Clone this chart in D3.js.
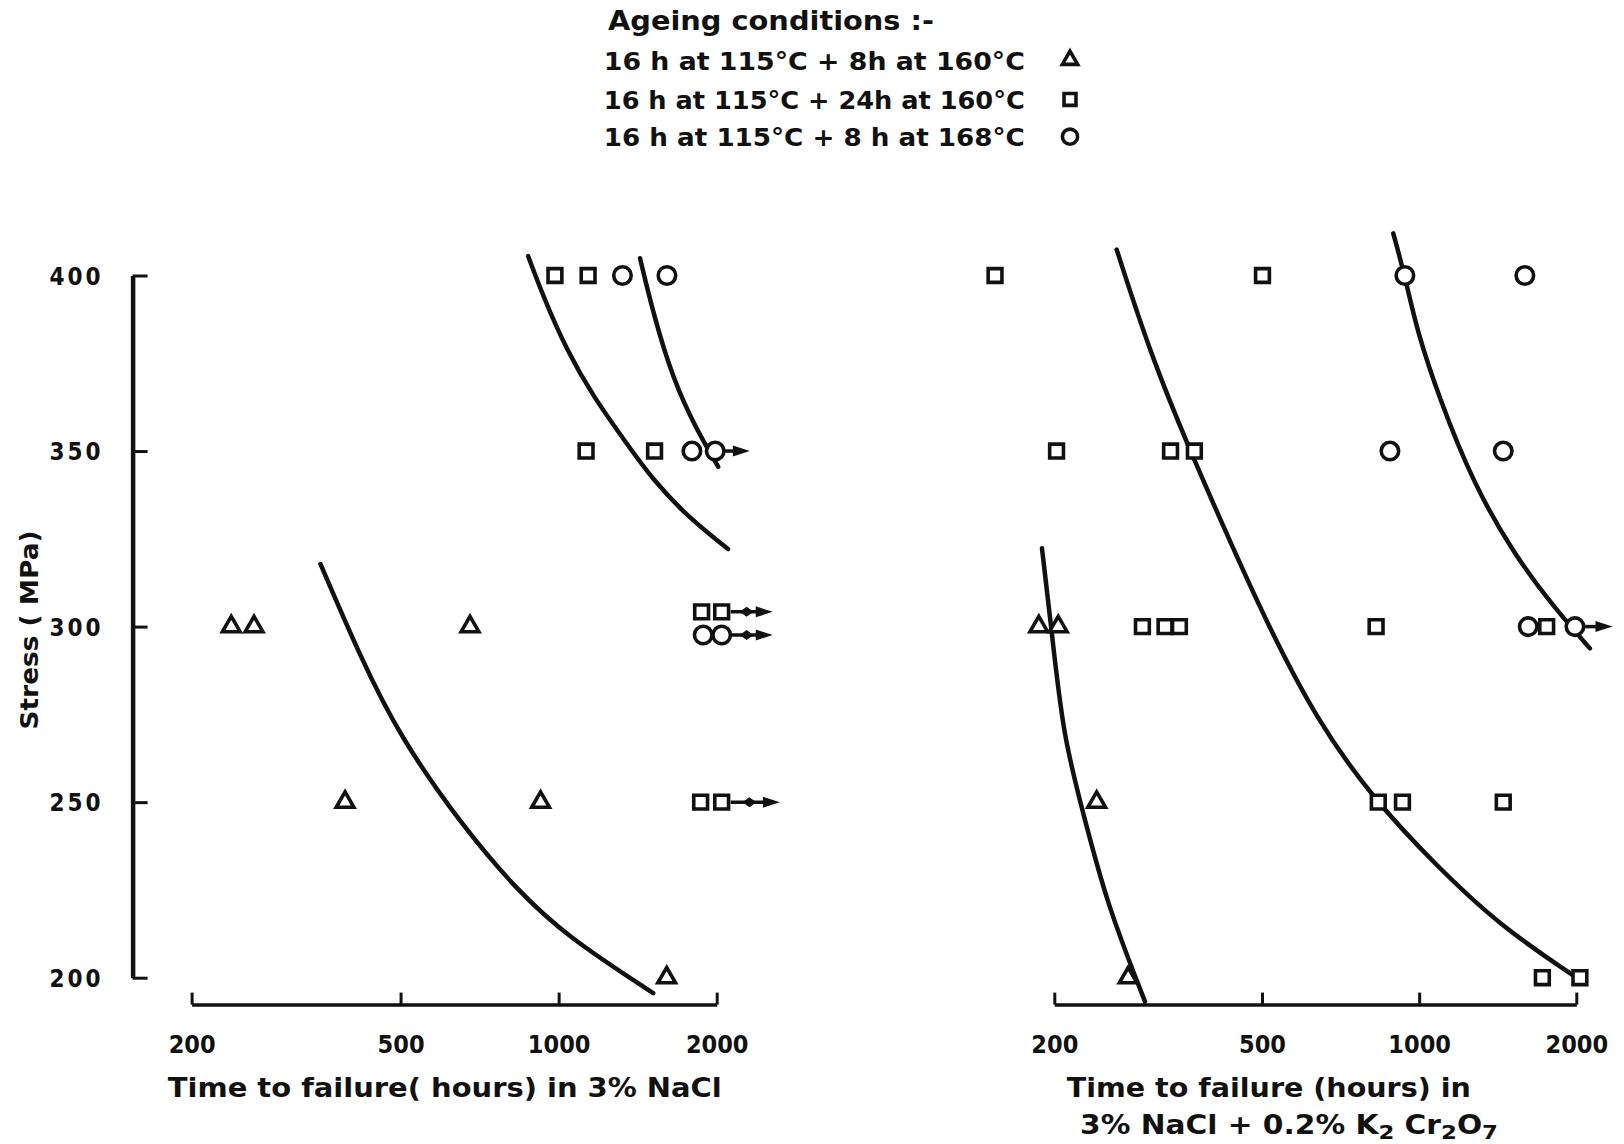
<!DOCTYPE html>
<html>
<head>
<meta charset="utf-8">
<style>
  body { margin: 0; background: #fff; }
  svg text { font-family: "DejaVu Sans Condensed", "DejaVu Sans", sans-serif; font-weight: bold; fill: #111; }
</style>
</head>
<body>
<div id="chart"></div>
<script src="https://cdn.jsdelivr.net/npm/d3@7"></script>
<script>
// axis ticks
var stressTicks = [200, 250, 300, 350, 400];
var timeTicks = [200, 500, 1000, 2000];

// ageing conditions (legend)
var conditions = ["16 h at 115°C + 8h at 160°C", "16 h at 115°C + 24h at 160°C", "16 h at 115°C + 8 h at 168°C"];
var shapes = ["triangle", "square", "circle"];

// left panel: 3% NaCl, [hours, MPa]
var naclTriangles = [[238, 300], [263, 300], [678, 300], [392, 250], [924, 250], [1606, 200]];
var naclSquares = [[984, 400], [1138, 400], [1128, 350], [1523, 350], [1872, 304.2], [2044, 304.2], [1864, 250], [2044, 250]];
var naclCircles = [[1323, 400], [1608, 400], [1794, 350], [1987, 350], [1885, 297.6], [2044, 297.6]];
// unbroken specimens: [from hours, MPa, to hours]
var naclArrows = [[1987, 350, 2313], [2044, 304.2, 2557], [2044, 297.6, 2557], [2044, 250, 2639]];
var naclCurveTri = [[352, 317.8], [419, 291.4], [498, 268.7], [657, 243], [833, 225], [1035, 211.8], [1514, 195.6]];
var naclCurveSq = [[875, 405.5], [935, 394], [1035, 378.8], [1164, 365.5], [1347, 352.2], [1514, 341.7], [1768, 331], [2102, 322.1]];
var naclCurveCi = [[1429, 404.9], [1514, 389.2], [1653, 370.2], [1832, 356], [2014, 345.5]];

// right panel: 3% NaCl + 0.2% K2Cr2O7
var chromTriangles = [[186.8, 300], [203.5, 300], [241.1, 250], [277, 200]];
var chromSquares = [[154, 400], [501, 400], [202, 350], [334, 350], [371, 350], [295, 300], [326, 300], [347.3, 300], [827, 300], [1755, 300], [835, 250], [929, 250], [1449, 250], [1722, 200], [2032, 200]];
var chromCircles = [[939, 400], [1594, 400], [879, 350], [1449, 350], [1618, 300], [1988, 300]];
var chromArrows = [[1988, 300, 2346]];
var chromCurveTri = [[189.4, 322.3], [197.6, 299.1], [208.1, 268.6], [227.2, 246.9], [251.9, 221.2], [298.4, 193.2]];
var chromCurveSq = [[263.3, 407.4], [304.8, 378.1], [363.8, 350.1], [440.4, 322.2], [510.4, 301.2], [636.5, 273.3], [816.9, 251], [1064, 232.8], [1428, 214.7], [2032, 199.4]];
var chromCurveCi = [[892, 412], [939, 399.9], [989, 384.5], [1096, 364.5], [1270, 340.8], [1515, 320.9], [1807, 305.7], [2124, 293.8]];

var width = 1624, height = 1144;

var svg = d3.select("#chart").append("svg")
    .attr("width", width)
    .attr("height", height);

var y = d3.scaleLinear().domain([200, 400]).range([977.7, 275.5]);
var xL = d3.scaleLog().domain([200, 2000]).range([191.6, 716.7]);
var xR = d3.scaleLog().domain([200, 2000]).range([1054.3, 1576.3]);

var symbolSize = { triangle: 135, square: 190, circle: 240 };
var symbolType = { triangle: d3.symbolTriangle, square: d3.symbolSquare, circle: d3.symbolCircle };

function sym(shape) {
    return d3.symbol().type(symbolType[shape]).size(symbolSize[shape])();
}

// y axis
var yAxis = svg.append("g")
    .attr("transform", "translate(132.6,0)")
    .call(d3.axisLeft(y).tickValues(stressTicks).tickSize(-15).tickSizeOuter(0).tickPadding(29));
yAxis.select(".domain").attr("stroke-width", 4.5).attr("stroke", "#111");
yAxis.selectAll(".tick line").attr("stroke-width", 3).attr("stroke", "#111");
yAxis.selectAll(".tick text")
    .style("font-size", "24px")
    .attr("letter-spacing", 3)
    .attr("dy", "0.36em");

svg.append("text")
    .attr("transform", "translate(38,630) rotate(-90)")
    .attr("text-anchor", "middle")
    .attr("textLength", 199)
    .attr("lengthAdjust", "spacingAndGlyphs")
    .style("font-size", "25px")
    .text("Stress ( MPa)");

function xAxisAt(scale) {
    var g = svg.append("g")
        .attr("transform", "translate(0,1004.6)")
        .call(d3.axisBottom(scale).tickValues(timeTicks).tickFormat(d3.format("d")).tickSize(-12).tickSizeOuter(0).tickPadding(31));
    g.select(".domain").attr("stroke-width", 3.5).attr("stroke", "#111");
    g.selectAll(".tick line").attr("stroke-width", 3).attr("stroke", "#111");
    g.selectAll(".tick text").style("font-size", "25px");
    return g;
}
xAxisAt(xL);
xAxisAt(xR);

svg.append("text")
    .attr("x", 167.8).attr("y", 1097)
    .attr("textLength", 554)
    .attr("lengthAdjust", "spacingAndGlyphs")
    .style("font-size", "26px")
    .text("Time to failure( hours) in 3% NaCl");

svg.append("text")
    .attr("x", 1066.8).attr("y", 1097)
    .attr("textLength", 404)
    .attr("lengthAdjust", "spacingAndGlyphs")
    .style("font-size", "26px")
    .text("Time to failure (hours) in");

var t2 = svg.append("text")
    .attr("x", 1080).attr("y", 1134)
    .attr("textLength", 418)
    .attr("lengthAdjust", "spacingAndGlyphs")
    .style("font-size", "26px");
t2.append("tspan").text("3% NaCl + 0.2% K");
t2.append("tspan").attr("dy", 5).style("font-size", "20px").text("2");
t2.append("tspan").attr("dy", -5).text(" Cr");
t2.append("tspan").attr("dy", 5).style("font-size", "20px").text("2");
t2.append("tspan").attr("dy", -5).text("O");
t2.append("tspan").attr("dy", 5).style("font-size", "20px").text("7");

// legend
svg.append("text")
    .attr("x", 608).attr("y", 30)
    .attr("textLength", 326)
    .attr("lengthAdjust", "spacingAndGlyphs")
    .style("font-size", "26px")
    .text("Ageing  conditions :-");

var legendY = [60, 99.4, 136.7];
var leg = svg.selectAll(".leg")
    .data(conditions)
    .enter().append("g")
    .attr("class", "leg")
    .attr("transform", function(d, i) { return "translate(0," + legendY[i] + ")"; });
leg.append("text")
    .attr("x", 603.8).attr("y", 9.5)
    .attr("textLength", 421)
    .attr("lengthAdjust", "spacingAndGlyphs")
    .style("font-size", "25px")
    .text(function(d) { return d; });
leg.append("path")
    .attr("transform", "translate(1070,0)")
    .attr("d", function(d, i) { return d3.symbol().type(symbolType[shapes[i]]).size(symbolSize[shapes[i]] * 0.75)(); })
    .attr("fill", "#fff")
    .attr("stroke", "#111")
    .attr("stroke-width", 3.6);

// curves
var curveGroups = [
    [xL, [naclCurveTri, naclCurveSq, naclCurveCi]],
    [xR, [chromCurveTri, chromCurveSq, chromCurveCi]]
];
curveGroups.forEach(function(g) {
    var line = d3.line()
        .x(function(d) { return g[0](d[0]); })
        .y(function(d) { return y(d[1]); })
        .curve(d3.curveBasis);
    g[1].forEach(function(c) {
        svg.append("path")
            .attr("d", line(c))
            .attr("fill", "none")
            .attr("stroke", "#111")
            .attr("stroke-width", 4.5)
            .attr("stroke-linecap", "round");
    });
});

// arrows for specimens that did not fail
function drawArrows(scale, arr, diamond) {
    arr.forEach(function(a) {
        var x0 = scale(a[0]) + 9, x1 = scale(a[2]), yy = y(a[1]);
        svg.append("line")
            .attr("x1", x0).attr("x2", x1 - 10)
            .attr("y1", yy).attr("y2", yy)
            .attr("stroke", "#111").attr("stroke-width", 3.5);
        svg.append("path")
            .attr("d", "M" + x1 + "," + yy + "L" + (x1 - 17) + "," + (yy - 5.5) + "L" + (x1 - 17) + "," + (yy + 5.5) + "Z")
            .attr("fill", "#111");
        if (diamond) {
            var xm = x0 + (x1 - x0) * 0.38;
            svg.append("path")
                .attr("d", "M" + (xm - 7) + "," + yy + "L" + xm + "," + (yy - 5) + "L" + (xm + 7) + "," + yy + "L" + xm + "," + (yy + 5) + "Z")
                .attr("fill", "#111");
        }
    });
}
drawArrows(xL, naclArrows.slice(0, 1), false);
drawArrows(xL, naclArrows.slice(1), true);
drawArrows(xR, chromArrows, false);

// markers
function drawPoints(scale, pts, shape) {
    svg.selectAll(null)
        .data(pts)
        .enter().append("path")
        .attr("transform", function(d) { return "translate(" + scale(d[0]) + "," + y(d[1]) + ")"; })
        .attr("d", sym(shape))
        .attr("fill", "#fff")
        .attr("stroke", "#111")
        .attr("stroke-width", 3.6);
}
drawPoints(xL, naclTriangles, "triangle");
drawPoints(xL, naclSquares, "square");
drawPoints(xL, naclCircles, "circle");
drawPoints(xR, chromTriangles, "triangle");
drawPoints(xR, chromSquares, "square");
drawPoints(xR, chromCircles, "circle");
</script>
</body>
</html>
